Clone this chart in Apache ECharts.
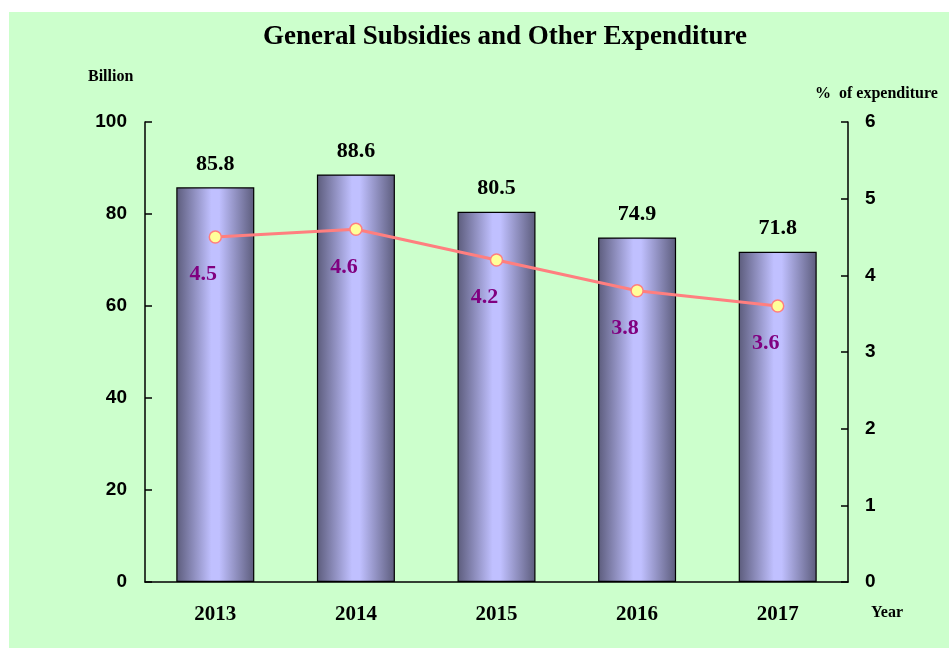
<!DOCTYPE html>
<html>
<head>
<meta charset="utf-8">
<script src="https://cdn.jsdelivr.net/npm/echarts@6/dist/echarts.min.js"></script>
<style>
html,body{margin:0;padding:0;background:#ffffff;}
#bg{position:absolute;left:9px;top:12px;width:940px;height:636px;background:#CCFFCC;}
#chart{position:absolute;left:0;top:0;width:949px;height:648px;}
</style>
</head>
<body>
<div id="bg"></div>
<div id="chart"></div>
<script>
const categories = ['2013', '2014', '2015', '2016', '2017'];
const expenditure = [85.8, 88.6, 80.5, 74.9, 71.8];
const percentOfExpenditure = [4.5, 4.6, 4.2, 3.8, 3.6];
const leftTicks = [0, 20, 40, 60, 80, 100];
const rightTicks = [0, 1, 2, 3, 4, 5, 6];

const serif = '"Liberation Serif", "Times New Roman", serif';
const sans = '"Liberation Sans", Arial, sans-serif';

const chart = echarts.init(document.getElementById('chart'), null, {renderer: 'canvas'});
chart.setOption({
  backgroundColor: 'transparent',
  animation: false,
  title: {
    text: 'General Subsidies and Other Expenditure',
    left: 500, top: 19, textAlign: 'center',
    textStyle: {fontFamily: serif, fontWeight: 'bold', fontSize: 27, color: '#000'}
  },
  graphic: [
    {type: 'text', left: 88, top: 69, style: {text: 'Billion', font: 'bold 16px ' + serif, fill: '#000'}},
    {type: 'text', left: 815, top: 86, style: {text: '%  of expenditure', font: 'bold 16px ' + serif, fill: '#000'}},
    {type: 'text', left: 871, top: 605, style: {text: 'Year', font: 'bold 16px ' + serif, fill: '#000'}}
  ],
  grid: {left: 145, right: 101, top: 122, bottom: 66, containLabel: false},
  xAxis: {
    type: 'category',
    data: categories,
    axisLine: {lineStyle: {color: '#000', width: 1.5}},
    axisTick: {show: false},
    axisLabel: {fontFamily: serif, fontWeight: 'bold', fontSize: 21, color: '#000', margin: 22}
  },
  yAxis: [
    {
      type: 'value', min: 0, max: 100, interval: 20,
      axisLine: {show: true, lineStyle: {color: '#000', width: 1.5}},
      axisTick: {show: true, inside: true, length: 7, lineStyle: {color: '#000', width: 1.5}},
      splitLine: {show: false},
      axisLabel: {fontFamily: sans, fontWeight: 'bold', fontSize: 19, color: '#000', margin: 18,
        formatter: v => leftTicks.includes(v) ? String(v) : ''}
    },
    {
      type: 'value', min: 0, max: 6, interval: 1, position: 'right',
      axisLine: {show: true, lineStyle: {color: '#000', width: 1.5}},
      axisTick: {show: true, inside: true, length: 7, lineStyle: {color: '#000', width: 1.5}},
      splitLine: {show: false},
      axisLabel: {fontFamily: sans, fontWeight: 'bold', fontSize: 19, color: '#000', margin: 17,
        formatter: v => rightTicks.includes(v) ? String(v) : ''}
    }
  ],
  series: [
    {
      type: 'bar',
      data: expenditure,
      barWidth: 78,
      itemStyle: {
        borderColor: '#000', borderWidth: 1.2,
        color: new echarts.graphic.LinearGradient(0, 0, 1, 0, [
          {offset: 0, color: '#5C5C7C'},
          {offset: 0.45, color: '#C0C0FF'},
          {offset: 0.55, color: '#C0C0FF'},
          {offset: 1, color: '#5C5C7C'}
        ])
      },
      label: {show: true, position: 'top', distance: 12, fontFamily: serif, fontWeight: 'bold', fontSize: 22, color: '#000'}
    },
    {
      type: 'line',
      yAxisIndex: 1,
      data: percentOfExpenditure,
      symbol: 'circle', symbolSize: 12,
      lineStyle: {color: '#FF7F7F', width: 3},
      itemStyle: {color: '#FFFF99', borderColor: '#FF7F7F', borderWidth: 1.5},
      label: {show: true, position: 'bottom', distance: 20, offset: [-12, 0],
        fontFamily: serif, fontWeight: 'bold', fontSize: 22, color: '#800080',
        formatter: p => p.value.toFixed(1)}
    }
  ]
});
</script>
</body>
</html>
